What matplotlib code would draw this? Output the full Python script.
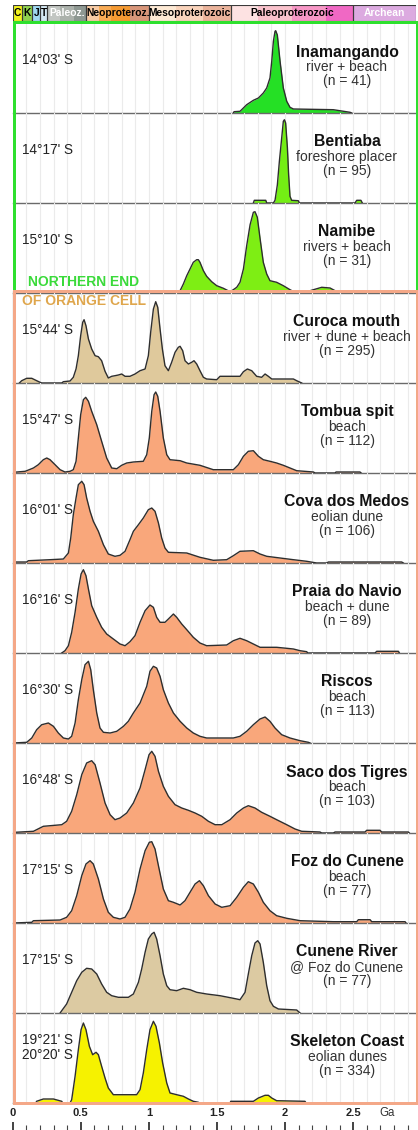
"""Detrital zircon age spectra - Angola / Namibia coast (Orange cell northern end)"""

import matplotlib
matplotlib.use("Agg")
import matplotlib.pyplot as plt
from matplotlib.patches import Rectangle
from matplotlib.ticker import MultipleLocator

plt.rcParams['font.family'] = ['Liberation Sans', 'DejaVu Sans']

# ---- figure geometry (pixels) ----
W, H = 418, 1130
X0, X1 = 12.7, 416.0          # 0 Ga and right edge
PX_PER_GA = 136.2
XMAX = (X1 - X0) / PX_PER_GA
TOP0, PANEL_H = 23, 90

# ---- geological time scale (header) ----
era_edges = [0, 0.066, 0.145, 0.201, 0.252, 0.541, 1.0, 1.6, 2.5, XMAX]
era_labels = ["C", "K", "J", "T", "Paleoz.", "Neoproteroz.", "Mesoproterozoic",
              "Paleoproterozoic", "Archean"]
era_text_col = ["black", "black", "black", "black", "white", "black", "black",
                "black", "white"]
# sub-bands for the colour shading inside each era
band_edges = [0, 0.066, 0.145, 0.201, 0.252, 0.35, 0.45, 0.541, 0.635, 0.72, 0.86,
              1.0, 1.2, 1.4, 1.6, 1.8, 2.05, 2.3, 2.5, XMAX]
band_colors = ['#f2f21d', '#8fd14f', '#9fd8f0', '#d4e8f2', '#c2c6c2', '#acb2ac',
               '#8e9892', '#f8cba4', '#f8ab55', '#f59a32', '#d8967a', '#fde9d4',
               '#f9d3bb', '#eab39b', '#fde2e2', '#f9c2cc', '#f797c6', '#f068c4',
               '#dcaae0']

# ---- sites ----
site_names = ["Inamangando", "Bentiaba", "Namibe", "Curoca mouth", "Tombua spit",
              "Cova dos Medos", "Praia do Navio", "Riscos", "Saco dos Tigres",
              "Foz do Cunene", "Cunene River", "Skeleton Coast"]
site_types = ["river + beach", "foreshore placer", "rivers + beach",
              "river + dune + beach", "beach", "eolian dune", "beach + dune", "beach",
              "beach", "beach", "@ Foz do Cunene", "eolian dunes"]
site_n = [41, 95, 31, 295, 112, 106, 89, 113, 103, 77, 77, 334]
site_lat = ["14°03' S", "14°17' S", "15°10' S", "15°44' S", "15°47' S", "16°01' S",
            "16°16' S", "16°30' S", "16°48' S", "17°15' S", "17°15' S",
            "19°21' S\n20°20' S"]
site_colors = ['#25e025', '#74ee14', '#7eee14', '#dfc99c', '#f9a77b', '#f9a77b',
               '#f9a77b', '#f9a77b', '#f9a77b', '#f9a77b', '#dccaa2', '#f6f200']

# ages (Ga) and relative probability (px-scaled, 0-90)
inamangando_age = [1.620, 1.625, 1.669, 1.681, 1.718, 1.767, 1.804, 1.840, 1.865, 1.889,
                   1.902, 1.914, 1.926, 1.931, 1.943, 1.963, 1.987, 2.012, 2.036, 2.061,
                   2.354, 2.477, 2.489]
inamangando_p = [0, 1.3, 1.7, 3.3, 8.3, 12.7, 15, 20, 25, 35, 51.7, 71.7, 81.7, 82.3, 78,
                 51.7, 25, 11.7, 5.7, 4, 3.3, 0.7, 0]

bentiaba_age = [1.767, 1.774, 1.858, 1.865, 1.914, 1.926, 1.943, 1.958, 1.975, 1.987,
                1.995, 2.004, 2.017, 2.026, 2.036, 2.048, 2.097, 2.105, 2.513, 2.526,
                2.557, 2.567]
bentiaba_p = [0, 2.7, 2.7, 0, 0, 2.7, 18, 41.7, 65, 81.7, 83.3, 80, 55, 28, 6.7, 2.7,
              2.3, 0, 0, 2.7, 2.7, 0]

namibe_age = [1.216, 1.229, 1.253, 1.278, 1.302, 1.326, 1.351, 1.363, 1.375, 1.400,
              1.424, 1.461, 1.498, 1.547, 1.596, 1.620, 1.645, 1.669, 1.694, 1.718,
              1.743, 1.767, 1.779, 1.796, 1.816, 1.840, 1.865, 1.889, 1.938, 1.987,
              2.036, 2.073, 2.085, 2.146, 2.208, 2.269, 2.330, 2.367, 2.501, 2.513]
namibe_p = [0, 2.3, 9, 17.3, 24, 30.7, 33.3, 33.3, 30.7, 22.3, 16.7, 11.3, 7.3, 4.7,
            1.3, 3.3, 5.7, 10.7, 24, 47.3, 68.3, 80.7, 81.3, 75.7, 54.7, 30.7, 19,
            12.3, 10.7, 7.3, 3.3, 0.7, 0, 0.7, 3.3, 5.7, 5, 2.3, 2, 0]

curoca_age = [0.049, 0.066, 0.103, 0.140, 0.176, 0.201, 0.213, 0.360, 0.372, 0.421,
              0.445, 0.465, 0.482, 0.499, 0.514, 0.524, 0.538, 0.556, 0.580, 0.605,
              0.629, 0.653, 0.678, 0.702, 0.727, 0.751, 0.776, 0.800, 0.825, 0.861,
              0.898, 0.935, 0.972, 0.996, 1.013, 1.033, 1.050, 1.065, 1.082, 1.099,
              1.118, 1.143, 1.167, 1.192, 1.216, 1.229, 1.248, 1.265, 1.290, 1.314,
              1.331, 1.351, 1.375, 1.400, 1.424, 1.498, 1.522, 1.669, 1.694, 1.723,
              1.755, 1.791, 1.828, 1.853, 1.877, 1.902, 2.061, 2.085, 2.122]
curoca_p = [0, 2.3, 4.7, 4.7, 2.3, 0.7, 0, 0, 1.3, 2, 5.7, 14, 27.3, 47.3, 60.7, 63.3,
            57.3, 44, 34, 27.3, 26.3, 22.3, 11.7, 5, 6.7, 7.3, 8, 9, 6.7, 6.7, 9, 12.3,
            14, 27.3, 50.7, 74, 81.3, 75.7, 54, 34, 17.3, 12.3, 20.7, 30.7, 35.7, 36.7,
            32.3, 22.3, 19, 20.7, 22.3, 19, 12.3, 5.7, 4, 3.3, 6.7, 6.7, 11.3, 14, 12.3,
            6.7, 5.7, 9, 6.7, 4, 4, 2.3, 0]

tombua_age = [0.005, 0.091, 0.103, 0.152, 0.188, 0.225, 0.250, 0.274, 0.311, 0.348,
              0.384, 0.421, 0.445, 0.465, 0.482, 0.499, 0.519, 0.536, 0.556, 0.580,
              0.617, 0.653, 0.690, 0.727, 0.764, 0.800, 0.837, 0.886, 0.959, 0.984,
              1.003, 1.021, 1.038, 1.050, 1.065, 1.082, 1.106, 1.131, 1.155, 1.229,
              1.278, 1.375, 1.473, 1.620, 1.657, 1.694, 1.730, 1.767, 1.804, 1.840,
              1.889, 1.938, 1.987, 2.036, 2.085, 2.208, 2.220, 2.367, 2.374, 2.550,
              2.558]
tombua_p = [0.7, 1.7, 2.3, 5, 8.3, 13.3, 15, 13.3, 8.3, 3.3, 1, 1.7, 3.3, 11.7, 35,
            58.3, 73.3, 75.7, 71.7, 61.7, 48.3, 31.7, 15, 5, 4.3, 7.7, 10, 11, 11.7,
            18.3, 35, 61.7, 78.3, 81, 76.7, 61.7, 35, 18.3, 13.3, 12.3, 10, 7.7, 3.3,
            3.3, 8.3, 16.7, 21.7, 22.3, 16.7, 13.3, 11.7, 10, 7.7, 5, 2.3, 1, 0, 0, 1,
            1, 0]

cova_age = [0.017, 0.103, 0.115, 0.274, 0.372, 0.409, 0.426, 0.445, 0.465, 0.482,
            0.507, 0.524, 0.543, 0.568, 0.592, 0.629, 0.666, 0.702, 0.751, 0.788,
            0.825, 0.861, 0.886, 0.923, 0.959, 0.996, 1.021, 1.045, 1.070, 1.094,
            1.118, 1.143, 1.278, 1.375, 1.473, 1.571, 1.620, 1.669, 1.767, 1.816,
            1.865, 1.963, 2.061, 2.159, 2.232, 2.305, 2.318, 2.856, 2.868]
cova_p = [1, 1, 2.3, 3.3, 4, 10, 25, 48.3, 65, 78.3, 81.7, 78.3, 65, 51.7, 41.7, 31.7,
          18.3, 9, 6.7, 7.7, 11.7, 23.3, 31.7, 38.3, 45, 53.3, 55, 51.7, 40, 25, 15,
          10.7, 10, 5.7, 2.7, 3.3, 7.3, 11.7, 12.3, 9, 6.7, 5, 3.3, 1.7, 0, 0, 1, 1, 0]

navio_age = [0.360, 0.384, 0.409, 0.433, 0.458, 0.482, 0.502, 0.519, 0.538, 0.556,
             0.580, 0.617, 0.653, 0.690, 0.739, 0.788, 0.825, 0.861, 0.898, 0.935,
             0.972, 1.008, 1.033, 1.057, 1.082, 1.118, 1.143, 1.180, 1.204, 1.241,
             1.278, 1.326, 1.375, 1.424, 1.571, 1.620, 1.669, 1.718, 1.767, 1.816,
             1.938, 2.012, 2.061, 2.110, 2.159, 2.166, 2.660, 2.673, 2.832, 2.839]
navio_p = [0, 2.3, 7.3, 20.7, 40.7, 64, 79, 83.3, 77.3, 64, 47.3, 35.7, 25.7, 19, 14,
           9, 7.3, 11.3, 17.3, 30.7, 42.3, 48, 45.7, 35.7, 30.7, 30.7, 34, 39, 35.7,
           29, 23.3, 15.7, 10, 7.3, 8, 12.3, 14.7, 12.3, 9, 5.7, 5.7, 4.7, 4, 2.3,
           1.3, 0, 0, 1.7, 1.7, 0]

riscos_age = [0.005, 0.103, 0.140, 0.176, 0.213, 0.262, 0.299, 0.335, 0.372, 0.409,
              0.433, 0.458, 0.482, 0.507, 0.531, 0.556, 0.573, 0.592, 0.617, 0.641,
              0.666, 0.715, 0.764, 0.813, 0.849, 0.886, 0.935, 0.984, 1.008, 1.033,
              1.057, 1.082, 1.106, 1.143, 1.180, 1.229, 1.278, 1.326, 1.375, 1.424,
              1.620, 1.669, 1.718, 1.767, 1.816, 1.853, 1.889, 1.926, 1.975, 2.036,
              2.110, 2.171, 2.183]
riscos_p = [0, 0.7, 5, 13.3, 18.3, 20, 16.7, 10, 5, 4, 6.7, 20, 43.3, 63.3, 78.3, 81.7,
            73.3, 53.3, 30, 15, 10.7, 10, 11.7, 16.7, 21.7, 30, 40, 56.7, 71.7, 76.7,
            75, 66.7, 53.3, 40, 30, 21.7, 15, 10, 6.7, 5, 5, 6.7, 11.7, 18.3, 24, 26,
            21.7, 15, 8.3, 5, 2.3, 0.7, 0]

saco_age = [0.017, 0.152, 0.225, 0.360, 0.396, 0.433, 0.470, 0.507, 0.543, 0.580,
            0.605, 0.641, 0.678, 0.715, 0.751, 0.788, 0.837, 0.886, 0.935, 0.972,
            1.001, 1.021, 1.045, 1.070, 1.106, 1.143, 1.192, 1.241, 1.290, 1.339,
            1.388, 1.437, 1.486, 1.535, 1.596, 1.645, 1.694, 1.730, 1.779, 1.828,
            1.889, 1.938, 2.012, 2.073, 2.122, 2.256, 2.269, 2.354, 2.367, 2.587,
            2.599, 2.697, 2.709, 2.905, 2.912]
saco_p = [0.7, 1.7, 6.7, 8.3, 11.7, 21.7, 38.3, 58.3, 70, 72.3, 68.3, 50, 30, 18.3,
          13.3, 15, 20, 30, 45, 63.3, 78.3, 81.7, 76.7, 61.7, 46.7, 36.7, 28.3, 25,
          22.7, 20, 16.7, 11.7, 8.3, 8.3, 13.3, 20, 25, 27.3, 25, 20.7, 16.7, 13.3,
          8.3, 4, 1.7, 1, 0, 0, 1, 1, 2.7, 2.7, 1, 1, 0]

foz_age = [0.005, 0.140, 0.152, 0.348, 0.396, 0.433, 0.470, 0.507, 0.538, 0.568,
           0.592, 0.629, 0.666, 0.702, 0.739, 0.788, 0.825, 0.861, 0.898, 0.935,
           0.972, 1.003, 1.021, 1.045, 1.070, 1.106, 1.143, 1.180, 1.229, 1.265,
           1.302, 1.339, 1.371, 1.400, 1.437, 1.486, 1.535, 1.596, 1.645, 1.694,
           1.730, 1.767, 1.804, 1.840, 1.889, 1.938, 2.012, 2.110, 2.354, 2.526,
           2.538, 2.624, 2.636, 2.881, 2.888]
foz_p = [0, 0.7, 2.3, 3, 5.7, 12.3, 27.3, 47.3, 59, 62.3, 59, 44, 24, 10.7, 5.7, 4,
         5.7, 14, 30.7, 54, 72.3, 80.7, 81.3, 74, 57.3, 34, 22.3, 20.7, 18, 22.3, 30.7,
         39, 42.3, 37.3, 27.3, 19, 15.7, 17.3, 25.7, 35.7, 41.3, 39, 30.7, 20.7, 12.3,
         7.3, 4.7, 2.3, 1.3, 1.3, 3.3, 3.3, 1.3, 1.3, 0]

cunene_age = [0.348, 0.360, 0.396, 0.433, 0.470, 0.507, 0.543, 0.580, 0.617, 0.653,
              0.690, 0.727, 0.776, 0.849, 0.886, 0.923, 0.947, 0.972, 0.996, 1.021,
              1.038, 1.057, 1.082, 1.106, 1.131, 1.155, 1.204, 1.253, 1.302, 1.351,
              1.424, 1.522, 1.620, 1.669, 1.706, 1.730, 1.755, 1.779, 1.799, 1.816,
              1.840, 1.865, 1.889, 1.914, 1.951, 2.085, 2.110]
cunene_p = [0, 2.3, 9, 20.7, 32.3, 40.7, 44.7, 44, 39, 29, 20.7, 17.3, 15.7, 15.7, 19,
            30.7, 44, 60.7, 74, 79, 80.7, 74, 57.3, 39, 27.3, 23.3, 22.3, 24.7, 23.3,
            20.7, 19, 17.3, 14.7, 13.3, 20.7, 39, 57.3, 70, 72.3, 69, 50.7, 27.3, 12.3,
            6.7, 4, 3, 0]

skeleton_age = [0.171, 0.175, 0.225, 0.299, 0.360, 0.367, 0.421, 0.433, 0.458, 0.482,
                0.502, 0.519, 0.538, 0.563, 0.587, 0.612, 0.629, 0.653, 0.678, 0.702,
                0.739, 0.910, 0.935, 0.959, 0.984, 1.008, 1.033, 1.052, 1.077, 1.101,
                1.131, 1.155, 1.204, 1.253, 1.290, 1.326, 1.363, 1.371, 1.596, 1.601,
                1.767, 1.804, 1.853, 1.877, 1.902, 1.938, 2.146, 2.154]
skeleton_p = [0, 1.7, 4, 4, 1.7, 0, 0, 3.3, 26.7, 53.3, 73.3, 80, 73.3, 56.7, 48.3,
              50.7, 48.3, 36.7, 25, 15, 8.3, 8.3, 13.3, 30, 53.3, 73.3, 81.7, 76.7, 60,
              40, 20, 10, 8.3, 6.7, 4, 1.7, 0.7, 0, 0, 1.7, 1.7, 5, 7.7, 7.7, 5, 2.3,
              1.7, 0]

site_ages = [inamangando_age, bentiaba_age, namibe_age, curoca_age, tombua_age, cova_age,
             navio_age, riscos_age, saco_age, foz_age, cunene_age, skeleton_age]
site_probs = [inamangando_p, bentiaba_p, namibe_p, curoca_p, tombua_p, cova_p, navio_p,
              riscos_p, saco_p, foz_p, cunene_p, skeleton_p]

# bottom scale
scale_ticks = [0, 0.5, 1, 1.5, 2, 2.5]
scale_labels = ["0", "0.5", "1", "1.5", "2", "2.5"]


def px_axes(fig, top, height, left=X0, right=X1):
    """add an axes placed in pixel coordinates (top-left origin)"""
    return fig.add_axes([left / W, 1 - (top + height) / H,
                         (right - left) / W, height / H])


fig = plt.figure(figsize=(W / 100, H / 100), dpi=100)

# ---- header with the time scale ----
hax = px_axes(fig, 5, 16)
hax.set_xlim(0, XMAX)
hax.set_ylim(0, 1)
hax.axis('off')
for i in range(len(band_colors)):
    hax.axvspan(band_edges[i], band_edges[i + 1], color=band_colors[i], lw=0)
for i, lab in enumerate(era_labels):
    a, b = era_edges[i], era_edges[i + 1]
    hax.add_patch(Rectangle((a, 0), b - a, 1, fill=False, ec='#3a3a3a', lw=0.8))
    hax.text((a + b) / 2, 0.47, lab, ha='center', va='center', fontsize=7.4,
             fontweight='bold', color=era_text_col[i])

# ---- panels ----
for i in range(len(site_names)):
    top = TOP0 + PANEL_H * i
    ax = px_axes(fig, top, PANEL_H)
    ax.set_xlim(0, XMAX)
    ax.set_ylim(0, 90)
    ax.patch.set_alpha(0)
    ax.set_axisbelow(True)
    ax.xaxis.set_minor_locator(MultipleLocator(0.1))
    ax.set_xticks([])
    ax.set_yticks([])
    ax.grid(which='minor', axis='x', color='#ebebeb', lw=0.8)
    for s in ['top', 'left', 'right']:
        ax.spines[s].set_visible(False)
    ax.spines['bottom'].set_color('#6a6a6a')
    ax.spines['bottom'].set_linewidth(1.0)
    ax.tick_params(which='both', length=0)

    ax.fill_between(site_ages[i], site_probs[i], 0, color=site_colors[i], lw=0,
                    zorder=2)
    ax.plot(site_ages[i], site_probs[i], color='#2e2e2e', lw=1.0, zorder=3)

    xc = (347 - X0) / PX_PER_GA
    ax.text(xc, 90 - 29, site_names[i], ha='center', va='center', fontsize=11.3,
            fontweight='bold', color='#111111')
    ax.text(xc, 90 - 44, site_types[i], ha='center', va='center', fontsize=10,
            color='#333333')
    ax.text(xc, 90 - 58, f"(n = {site_n[i]})", ha='center', va='center',
            fontsize=10, color='#333333')
    lat_y = 90 - 34.5 if '\n' in site_lat[i] else 90 - 37
    ax.text((22 - X0) / PX_PER_GA, lat_y, site_lat[i], ha='left', va='center',
            fontsize=9.8, color='#222222', linespacing=1.1)

# ---- frames around the two groups ----
def frame(y0, y1, color, lw_px):
    fig.patches.append(Rectangle((14.2 / W, 1 - y1 / H), (X1 + 0.5 - 14.2) / W,
                                 (y1 - y0) / H, transform=fig.transFigure,
                                 fill=False, ec=color, lw=lw_px * 0.72, zorder=5))


frame(22.5, 291, '#2ee02e', 3)
frame(291, 1103, '#f4a888', 3)
fig.add_artist(plt.Line2D([X0 / W, X0 / W], [1 - 1103 / H, 1 - 291 / H],
                          transform=fig.transFigure, color='#222222', lw=0.8))

fig.text(27.5 / W, 1 - 282 / H, "NORTHERN END", fontsize=10, fontweight='bold',
         color='#3ada3a', va='center', ha='left', zorder=6)
fig.text(21.5 / W, 1 - 301 / H, "OF ORANGE CELL", fontsize=10, fontweight='bold',
         color='#dfa64c', va='center', ha='left', zorder=6)

# ---- bottom age scale ----
sax = px_axes(fig, 1104, 26)
sax.set_xlim(0, XMAX)
sax.set_ylim(0, 26)
for s in ['top', 'left', 'right', 'bottom']:
    sax.spines[s].set_visible(False)
sax.set_yticks([])
sax.set_xticks(scale_ticks)
sax.set_xticklabels([])
sax.xaxis.set_minor_locator(MultipleLocator(0.1))
sax.tick_params(axis='x', which='major', direction='in', length=6, width=1.2,
                color='#222222')
sax.tick_params(axis='x', which='minor', direction='in', length=3.4, width=0.8,
                color='#444444')
for v, lab in zip(scale_ticks, scale_labels):
    sax.text(v, 17, lab, ha='center', va='center', fontsize=8, fontweight='bold',
             color='#222222')
sax.text((387 - X0) / PX_PER_GA, 17, "Ga", ha='center', va='center', fontsize=8.3,
         color='#333333')

fig.savefig('out.png', dpi=100)
plt.close(fig)
